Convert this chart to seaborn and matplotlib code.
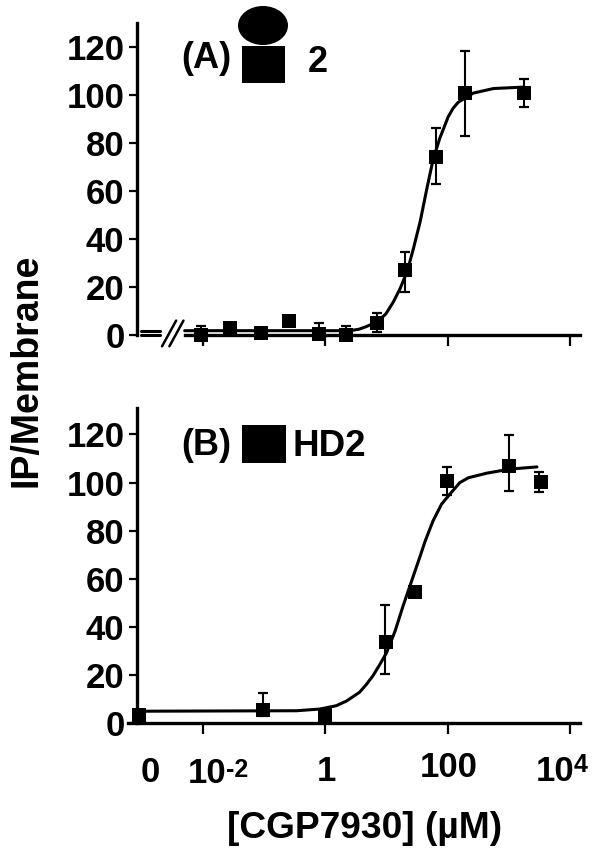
import matplotlib
matplotlib.use('Agg')
import matplotlib.pyplot as plt
import seaborn as sns
import pandas as pd
from matplotlib.patches import Ellipse, Rectangle

sns.set_theme(style='ticks')
plt.rcParams['font.family'] = ['Liberation Sans', 'DejaVu Sans']
plt.rcParams['font.weight'] = 'bold'
plt.rcParams['text.color'] = '#000000'
plt.rcParams['axes.edgecolor'] = '#000000'
plt.rcParams['xtick.color'] = '#000000'
plt.rcParams['ytick.color'] = '#000000'

BLACK = '#000000'

# x values are log10 of the concentration
a_x = [-2.04, -1.56, -1.06, -0.60, -0.10, 0.34, 0.84, 1.31, 1.81, 2.28, 3.25]
a_y = [0.0, 2.8, 0.7, 5.9, 0.3, 0.0, 5.2, 26.9, 74.3, 100.8, 101.0]
a_err_x = [-2.04, -0.10, 0.34, 0.84, 1.31, 1.81, 2.28, 3.25]
a_err_lo = [-0.5, -0.5, -0.5, 1.1, 18.1, 63.0, 83.0, 95.0]
a_err_hi = [3.9, 4.8, 3.9, 9.2, 34.4, 86.3, 118.2, 106.5]
a_fit_x = [-2.3, 0.40, 0.55, 0.67, 0.85, 0.99, 1.11, 1.22, 1.31, 1.38, 1.44, 1.55, 1.66, 1.76,
           1.87, 2.01, 2.09, 2.17, 2.28, 2.42, 2.75, 3.25]
a_fit_y = [1.8, 1.8, 2.4, 3.5, 5.5, 8.8, 13.7, 19.2, 24.8, 30.4, 36.0, 47.2, 61.0, 72.9,
           81.9, 91.0, 94.5, 96.9, 98.7, 100.8, 102.7, 103.3]

b_x = [-3.05, -1.02, -0.01, 0.995, 1.46, 1.99, 3.01, 3.52]
b_y = [3.2, 5.6, 3.5, 33.8, 54.4, 100.7, 106.9, 100.3]
b_err_x = [-1.02, 0.97, 1.99, 3.01, 3.50]
b_err_lo = [2.8, 20.4, 94.7, 96.5, 96.0]
b_err_hi = [12.4, 48.9, 106.5, 119.9, 104.4]
b_fit_x = [-3.05, -0.47, -0.09, 0.18, 0.35, 0.56, 0.67, 0.78, 0.89, 1.0, 1.14, 1.27, 1.41, 1.55,
           1.63, 1.76, 1.90, 2.01, 2.20, 2.34, 2.64, 3.02, 3.46]
b_fit_y = [4.9, 5.1, 5.8, 7.2, 9.2, 12.8, 16.0, 19.7, 24.3, 29.2, 38.2, 48.6, 59.0, 69.4,
           75.5, 84.0, 91.0, 94.4, 100.0, 102.0, 103.9, 105.6, 106.5]

y_ticks = [0, 20, 40, 60, 80, 100, 120]
x_ticks = [-2, 0, 2, 4]

W, H = 600, 855
fig = plt.figure(figsize=(W / 100, H / 100), dpi=100)


def px(x, y):
    return x / W, 1 - y / H


def make_panel(top, bottom, ymax, xs, ys, err_x, lo, hi, fit_x, fit_y):
    ax = fig.add_axes([128 / W, 1 - bottom / H, 452 / W, (bottom - top) / H])
    ax.set_xlim(-3.227, 4.164)
    ax.set_ylim(0, ymax)
    ax.patch.set_alpha(0)
    ax.vlines(err_x, lo, hi, color=BLACK, lw=1.5, clip_on=False, zorder=2)
    ax.scatter(err_x, lo, marker='_', s=45, color=BLACK, linewidths=1.6, clip_on=False, zorder=2)
    ax.scatter(err_x, hi, marker='_', s=45, color=BLACK, linewidths=1.6, clip_on=False, zorder=2)
    sns.lineplot(x=fit_x, y=fit_y, ax=ax, color=BLACK, lw=2.2, clip_on=False, zorder=3)
    df = pd.DataFrame({'x': xs, 'y': ys})
    sns.scatterplot(data=df, x='x', y='y', ax=ax, marker='s', s=92, color=BLACK,
                    linewidth=0, clip_on=False, zorder=4)
    ax.set_xlabel('')
    ax.set_ylabel('')
    ax.set_xticks(x_ticks)
    ax.set_xticklabels([])
    ax.set_yticks(y_ticks)
    ax.tick_params(axis='y', length=6, width=1.6, labelsize=25, pad=3)
    ax.tick_params(axis='x', length=8, width=1.6)
    sns.despine(ax=ax)
    ax.spines['left'].set_position(('axes', 9 / 452))
    ax.spines['left'].set_linewidth(2.4)
    ax.spines['bottom'].set_linewidth(2.4)
    return ax


ax_a = make_panel(23, 335, 130, a_x, a_y, a_err_x, a_err_lo, a_err_hi, a_fit_x, a_fit_y)
ax_b = make_panel(408, 723, 131, b_x, b_y, b_err_x, b_err_lo, b_err_hi, b_fit_x, b_fit_y)

# axis break in panel A
ax_a.spines['bottom'].set_bounds(-2.3, 4.164)
for yy in (1.8, 0.0):
    ax_a.plot([-3.01, -2.71], [yy, yy], color=BLACK, lw=2.2, clip_on=False)
for dx in (0, 0.12):
    ax_a.plot([-2.67 + dx, -2.44 + dx], [-4.7, 6.0], color=BLACK, lw=1.8, clip_on=False)

# x tick labels sit under the axis as plain text, not all of them on a tick
for lab, cx, cy in [('0', 150, 772), ('10', 207, 773), ('1', 326, 771), ('100', 449, 767), ('10', 555, 771)]:
    fig.text(*px(cx, cy), lab, ha='center', va='center', fontsize=25, fontweight='bold')
for lab, cx, cy in [('-2', 237, 770), ('4', 581, 765)]:
    fig.text(*px(cx, cy), lab, ha='center', va='center', fontsize=18, fontweight='bold')

fig.text(*px(27, 370), 'IP/Membrane', rotation=90, ha='center', va='center', fontsize=27, fontweight='bold')
fig.text(*px(365, 828), '[CGP7930] (µM)', ha='center', va='center', fontsize=26.7, fontweight='bold')

# panel tags with the drawn receptor shapes
fig.text(*px(206, 58), '(A)', ha='center', va='center', fontsize=26, fontweight='bold')
fig.text(*px(318, 62), '2', ha='center', va='center', fontsize=26, fontweight='bold')
fig.text(*px(206, 445), '(B)', ha='center', va='center', fontsize=26, fontweight='bold')
fig.text(*px(329, 446), 'HD2', ha='center', va='center', fontsize=26.5, fontweight='bold')

x0, y0 = px(263, 25.5)
fig.add_artist(Ellipse((x0, y0), 50 / W, 39 / H, color=BLACK, transform=fig.transFigure, lw=0))
x0, y0 = px(242, 83)
fig.add_artist(Rectangle((x0, y0), 43 / W, 37 / H, color=BLACK, transform=fig.transFigure, lw=0))
x0, y0 = px(242, 463)
fig.add_artist(Rectangle((x0, y0), 44 / W, 38 / H, color=BLACK, transform=fig.transFigure, lw=0))

fig.savefig('out.png', dpi=100)
